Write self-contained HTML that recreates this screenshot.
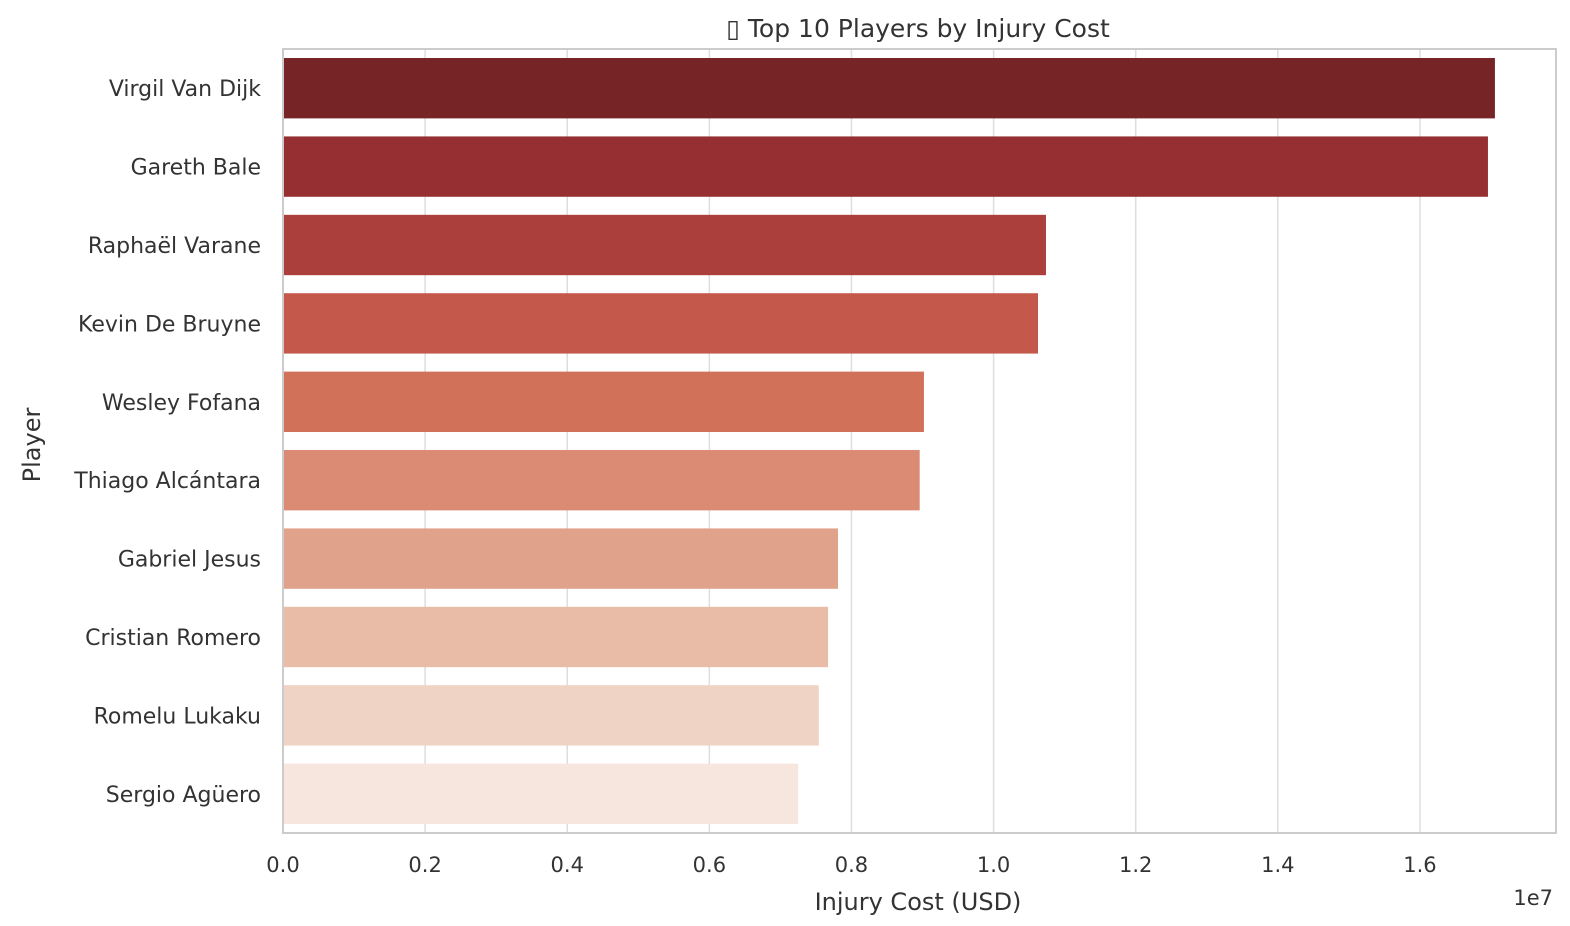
<!DOCTYPE html>
<html><head><meta charset="utf-8"><style>
html,body{margin:0;padding:0;background:#fff;}
svg{display:block;font-family:"DejaVu Sans","Liberation Sans",sans-serif;}
</style></head><body>
<svg id="chart" width="1570" height="926"></svg>
<script>
const players = ["Virgil Van Dijk","Gareth Bale","Raphaël Varane","Kevin De Bruyne","Wesley Fofana","Thiago Alcántara","Gabriel Jesus","Cristian Romero","Romelu Lukaku","Sergio Agüero"];
const costs = [17055000,16957000,10737000,10625000,9020000,8960000,7810000,7670000,7540000,7250000];
const tickValues = [0,2000000,4000000,6000000,8000000,10000000,12000000,14000000,16000000];
const tickLabels = ["0.0","0.2","0.4","0.6","0.8","1.0","1.2","1.4","1.6"];
const barColors = ["#772427","#952f31","#ab3f3c","#c4584b","#d2715a","#db8b73","#e0a28b","#e9bca8","#efd3c5","#f6e6de"];

const svg = document.getElementById('chart');
const NS = 'http://www.w3.org/2000/svg';
const L=283, R=1556, T=49, B=833;
const pxPerUnit = 710.6/1e7;
const x = v => L + v*pxPerUnit;
const band = (B-T)/players.length;
const y = i => T + band*i;
function mk(tag, attrs, text){const e=document.createElementNS(NS,tag);for(const k in attrs)e.setAttribute(k,attrs[k]);if(text!==undefined)e.textContent=text;svg.appendChild(e);return e;}

// gridlines
tickValues.forEach((v,i)=>{
  const g=mk('line',{x1:x(v),x2:x(v),y1:T,y2:B,stroke:'#dedede','stroke-width':1.5});
  
  
  const t=mk('text',{x:x(v),y:872,'text-anchor':'middle','font-size':21,fill:'#333'},tickLabels[i]);
  
  
});
// bars
players.forEach((p,i)=>{
  const h=band*0.77;
  const r=mk('rect',{x:L,y:y(i)+(band-h)/2,width:x(costs[i])-L,height:h,fill:barColors[i]});
  
  
  const t=mk('text',{x:261,y:y(i)+band/2+8,'text-anchor':'end','font-size':22,fill:'#333'},p);
  
  
});
// frame
const f=mk('rect',{x:L,y:T,width:R-L,height:B-T,fill:'none',stroke:'#cccccc','stroke-width':2});


const tt=mk('text',{x:918,y:37,'text-anchor':'middle','font-size':25,fill:'#333'},'▯ Top 10 Players by Injury Cost');


const xt=mk('text',{x:918,y:910,'text-anchor':'middle','font-size':24,fill:'#333'},'Injury Cost (USD)');


const yt=mk('text',{x:40,y:445,'text-anchor':'middle','font-size':24,fill:'#333',transform:'rotate(-90 40 445)'},'Player');


const ex=mk('text',{x:1553,y:905,'text-anchor':'end','font-size':21,fill:'#333'},'1e7');


</script>
</body></html>
